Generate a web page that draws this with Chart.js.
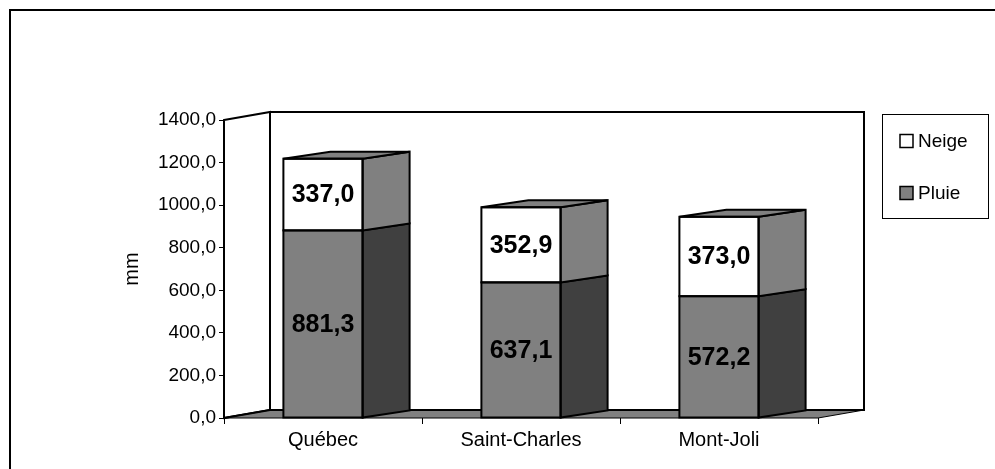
<!DOCTYPE html>
<html>
<head>
<meta charset="utf-8">
<script src="https://cdn.jsdelivr.net/npm/chart.js@4.4.1/dist/chart.umd.min.js"></script>
<style>
html,body{margin:0;padding:0;background:#fff;}
canvas{display:block;}
</style>
</head>
<body>
<canvas id="c" width="995" height="469"></canvas>
<script>
const categories = ['Québec', 'Saint-Charles', 'Mont-Joli'];
const pluie = [881.3, 637.1, 572.2];
const neige = [337.0, 352.9, 373.0];
const seriesNames = ['Pluie', 'Neige'];
const yMin = 0, yMax = 1400, yStep = 200;
const axisTitle = 'mm';

const FONT = "'Liberation Sans', Arial, sans-serif";
const WALL_DX = 46, WALL_DY = -8;
const BAR_DX = 47, BAR_DY = -7;
const sideColors = ['#404040', '#808080'];
const topColors = ['#808080', '#808080'];

function fmt(v){ return v.toFixed(1).replace('.', ','); }

const walls = {
  id: 'walls',
  beforeDatasetsDraw(chart){
    const ctx = chart.ctx;
    const {left, right, top, bottom} = chart.chartArea;
    ctx.save();
    ctx.lineWidth = 2;
    ctx.strokeStyle = '#000';
    ctx.lineJoin = 'miter';
    ctx.fillStyle = '#fff';
    ctx.beginPath();
    ctx.rect(left + WALL_DX, top + WALL_DY, right - left, bottom - top);
    ctx.fill(); ctx.stroke();
    ctx.beginPath();
    ctx.moveTo(left, top);
    ctx.lineTo(left + WALL_DX, top + WALL_DY);
    ctx.lineTo(left + WALL_DX, bottom + WALL_DY);
    ctx.lineTo(left, bottom);
    ctx.closePath();
    ctx.fill(); ctx.stroke();
    ctx.fillStyle = '#808080';
    ctx.beginPath();
    ctx.moveTo(left, bottom);
    ctx.lineTo(left + WALL_DX, bottom + WALL_DY);
    ctx.lineTo(right + WALL_DX, bottom + WALL_DY);
    ctx.lineTo(right, bottom);
    ctx.closePath();
    ctx.fill();
    ctx.lineWidth = 1;
    ctx.stroke();
    ctx.lineWidth = 2;
    ctx.beginPath();
    ctx.moveTo(left, bottom); ctx.lineTo(left + WALL_DX, bottom + WALL_DY);
    ctx.lineTo(right + WALL_DX, bottom + WALL_DY);
    ctx.stroke();
    ctx.restore();
  }
};

const bars3d = {
  id: 'bars3d',
  afterDatasetsDraw(chart){
    const ctx = chart.ctx;
    ctx.save();
    ctx.lineWidth = 2;
    ctx.strokeStyle = '#000';
    ctx.lineJoin = 'miter';
    const nds = chart.data.datasets.length;
    chart.data.datasets.forEach((ds, di) => {
      const meta = chart.getDatasetMeta(di);
      meta.data.forEach(el => {
        const p = el.getProps(['x','y','base','width'], true);
        const l = p.x - p.width/2, r = p.x + p.width/2;
        ctx.fillStyle = sideColors[di];
        ctx.beginPath();
        ctx.moveTo(r, p.y);
        ctx.lineTo(r + BAR_DX, p.y + BAR_DY);
        ctx.lineTo(r + BAR_DX, p.base + BAR_DY);
        ctx.lineTo(r, p.base);
        ctx.closePath();
        ctx.fill(); ctx.stroke();
        if (di === nds - 1) {
          ctx.fillStyle = topColors[di];
          ctx.beginPath();
          ctx.moveTo(l, p.y);
          ctx.lineTo(l + BAR_DX, p.y + BAR_DY);
          ctx.lineTo(r + BAR_DX, p.y + BAR_DY);
          ctx.lineTo(r, p.y);
          ctx.closePath();
          ctx.fill(); ctx.stroke();
        }
        ctx.strokeRect(l, p.y, r - l, p.base - p.y);
      });
    });
    ctx.fillStyle = '#000';
    ctx.font = 'bold 25px ' + FONT;
    ctx.textAlign = 'center';
    ctx.textBaseline = 'middle';
    chart.data.datasets.forEach((ds, di) => {
      const meta = chart.getDatasetMeta(di);
      meta.data.forEach((el, i) => {
        const p = el.getProps(['x','y','base'], true);
        ctx.fillText(fmt(ds.data[i]), p.x, (p.y + p.base)/2 + 1);
      });
    });
    ctx.restore();
  }
};

const decor = {
  id: 'decor',
  afterDraw(chart){
    const ctx = chart.ctx;
    ctx.save();
    ctx.strokeStyle = '#000';
    ctx.lineWidth = 2;
    ctx.beginPath();
    ctx.moveTo(10, 469); ctx.lineTo(10, 10); ctx.lineTo(995, 10);
    ctx.stroke();
    ctx.fillStyle = '#000';
    ctx.font = '20px ' + FONT;
    ctx.textAlign = 'center';
    ctx.textBaseline = 'middle';
    ctx.translate(132, 269);
    ctx.rotate(-Math.PI/2);
    ctx.fillText(axisTitle, 0, 0);
    ctx.restore();

    ctx.save();
    const bx = 882, by = 114, bw = 106, bh = 104;
    ctx.fillStyle = '#fff';
    ctx.strokeStyle = '#000';
    ctx.lineWidth = 1;
    ctx.fillRect(bx, by, bw, bh);
    ctx.strokeRect(bx + 0.5, by + 0.5, bw, bh);
    ctx.font = '19px ' + FONT;
    ctx.textBaseline = 'middle';
    ctx.textAlign = 'left';
    const ds = chart.data.datasets;
    const order = [1, 0];
    order.forEach((di, k) => {
      const cy = by + bh * (0.25 + 0.5 * k) + 1;
      ctx.fillStyle = ds[di].backgroundColor;
      ctx.fillRect(bx + 18, cy - 6.5, 13, 13);
      ctx.lineWidth = 1.5;
      ctx.strokeRect(bx + 18, cy - 6.5, 13, 13);
      ctx.fillStyle = '#000';
      ctx.fillText(ds[di].label, bx + 36, cy + 1);
    });
    ctx.restore();
  }
};

new Chart(document.getElementById('c'), {
  type: 'bar',
  data: {
    labels: categories,
    datasets: [
      { label: seriesNames[0], data: pluie, backgroundColor: '#808080', borderWidth: 0 },
      { label: seriesNames[1], data: neige, backgroundColor: '#ffffff', borderWidth: 0 }
    ]
  },
  options: {
    responsive: false,
    animation: false,
    devicePixelRatio: 1,
    layout: { padding: { left: 144, top: 120, right: 177, bottom: 11 } },
    plugins: { legend: { display: false }, tooltip: { enabled: false } },
    datasets: { bar: { barPercentage: 0.4, categoryPercentage: 1.0 } },
    scales: {
      x: {
        stacked: true,
        border: { display: false },
        grid: { offset: true, drawOnChartArea: false, drawTicks: true, tickLength: 6, color: '#000', tickColor: '#000' },
        ticks: { color: '#000', font: { family: FONT, size: 20 }, padding: 4, maxRotation: 0 },
        afterFit(s){ s.height = 40; }
      },
      y: {
        stacked: true,
        min: yMin, max: yMax,
        border: { display: false },
        grid: { drawOnChartArea: false, drawTicks: true, tickLength: 5, color: '#000', tickColor: '#000' },
        ticks: { stepSize: yStep, color: '#000', font: { family: FONT, size: 19 }, padding: 3,
                 callback: v => fmt(v) },
        afterFit(s){ s.width = 80; }
      }
    }
  },
  plugins: [walls, bars3d, decor]
});
</script>
</body>
</html>
